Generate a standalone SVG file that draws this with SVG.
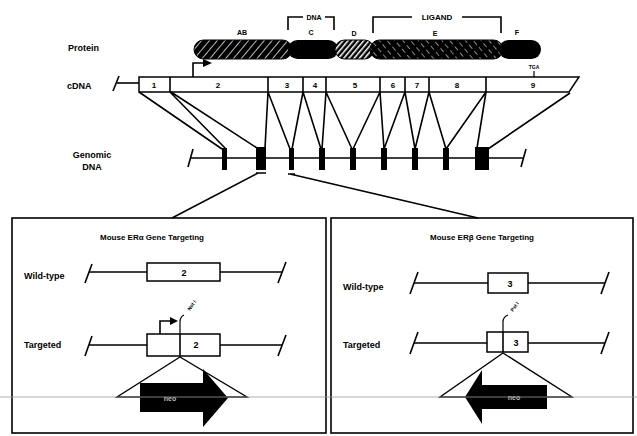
<svg xmlns="http://www.w3.org/2000/svg" width="637" height="436" viewBox="0 0 637 436">
<style>
text{font-family:"Liberation Sans",Arial,sans-serif;font-weight:bold;fill:#000}
.ln{stroke:#000;stroke-width:1.6;fill:none}
.thin{stroke:#000;stroke-width:1.2;fill:none}
.box{stroke:#000;stroke-width:1.5;fill:#fff}
.lbl{font-size:9px}
.sm{font-size:7px;text-anchor:middle}
.num{font-size:8px;text-anchor:middle}
.ex{fill:#000}
</style>
<defs>
<pattern id="hA" width="6" height="6" patternUnits="userSpaceOnUse" patternTransform="rotate(40)">
<rect width="6" height="6" fill="#000"/><rect x="0" y="0" width="1" height="6" fill="#bbb"/>
</pattern>
<pattern id="hD" width="4" height="4" patternUnits="userSpaceOnUse" patternTransform="rotate(40)">
<rect width="4" height="4" fill="#000"/><rect x="0" y="0" width="1.5" height="4" fill="#fff"/>
</pattern>
<pattern id="hE" width="6" height="8" patternUnits="userSpaceOnUse" patternTransform="rotate(-40)">
<rect width="6" height="8" fill="#000"/><rect x="0" y="0" width="0.9" height="5" fill="#999"/>
</pattern>
</defs>
<rect width="637" height="436" fill="#fff"/>

<g id="labels-left">
<text class="lbl" x="68" y="51">Protein</text>
<text class="lbl" x="67" y="89">cDNA</text>
<text class="lbl" x="92" y="158" text-anchor="middle">Genomic</text>
<text class="lbl" x="92" y="170" text-anchor="middle">DNA</text>
</g>

<g id="protein">
<rect x="194" y="40" width="98" height="19" rx="9.5" fill="url(#hA)" stroke="#000" stroke-width="1"/>
<rect x="288" y="40" width="50" height="19" rx="9.5" fill="#000"/>
<rect x="335" y="40" width="39" height="19" rx="9.5" fill="url(#hD)" stroke="#000" stroke-width="1"/>
<rect x="370" y="40" width="133" height="19" rx="9.5" fill="url(#hE)" stroke="#000" stroke-width="1"/>
<rect x="499" y="40" width="42" height="19" rx="9.5" fill="#000"/>
<text class="sm" x="242" y="35">AB</text>
<text class="sm" x="311" y="35">C</text>
<text class="sm" x="354" y="36">D</text>
<text class="sm" x="435" y="36">E</text>
<text class="sm" x="517" y="35">F</text>
<path class="ln" d="M288,30 V17 H303 M325,17 H334 V30"/>
<text class="sm" x="314" y="20">DNA</text>
<path class="ln" d="M373,33 V17 H412 M462,17 H501 V33"/>
<text class="sm" x="437" y="20" style="font-size:8px">LIGAND</text>
</g>

<g id="cdna">
<path class="ln" d="M117,83 H139"/>
<path class="ln" d="M113,91 L119,76"/>
<path class="box" d="M139,77 H579 L569,92 H139 Z"/>
<path class="ln" d="M170,77 V92 M268,77 V92 M303,77 V92 M326,77 V92 M380,77 V92 M405,77 V92 M429,77 V92 M486,77 V92"/>
<text class="num" x="154" y="88">1</text>
<text class="num" x="218" y="88">2</text>
<text class="num" x="287" y="88">3</text>
<text class="num" x="315" y="88">4</text>
<text class="num" x="355" y="88">5</text>
<text class="num" x="393" y="88">6</text>
<text class="num" x="417" y="88">7</text>
<text class="num" x="457" y="88">8</text>
<text class="num" x="533" y="88">9</text>
<path class="ln" d="M193,77 V63 H204"/>
<polygon points="203,59 212,63 203,67" fill="#000"/>
<path class="thin" d="M534,71 V77"/>
<text x="534" y="69" style="font-size:5px" text-anchor="middle">TGA</text>
</g>

<g id="genomic">
<path class="ln" d="M190,158 H524"/>
<path class="ln" d="M188,167 L193,149"/>
<path class="ln" d="M521,167 L526,149"/>
<rect class="ex" x="222" y="148" width="5" height="22"/>
<rect class="ex" x="256" y="147" width="10" height="23"/>
<rect class="ex" x="289" y="148" width="5" height="22"/>
<rect class="ex" x="319" y="148" width="6" height="22"/>
<rect class="ex" x="350" y="148" width="6" height="22"/>
<rect class="ex" x="381" y="148" width="6" height="22"/>
<rect class="ex" x="412" y="148" width="6" height="22"/>
<rect class="ex" x="443" y="148" width="6" height="22"/>
<rect class="ex" x="475" y="147" width="14" height="23"/>
</g>

<g id="connectors">
<path class="ln" d="M139,92 L222,149 M170,92 L226,149 M171,92 L257,148 M268,92 L265,148 M268,92 L290,149 M303,92 L292,149 M303,92 L321,149 M326,92 L322,149 M326,92 L352,149 M380,92 L353,149 M380,92 L384,149 M405,92 L384,149 M405,92 L415,149 M429,92 L415,149 M429,92 L446,149 M486,92 L446,149 M486,92 L477,148 M570,93 L488,149"/>
<path class="ln" d="M256,173 H266 M258,173 L172,218 M288,174 H295 M290,174 L478,218"/>
</g>

<g id="panel-alpha">
<rect x="12" y="218" width="314" height="215" fill="none" stroke="#000" stroke-width="1.6"/>
<text x="152" y="240" style="font-size:8px" text-anchor="middle">Mouse ERα Gene Targeting</text>
<text class="lbl" x="24" y="279">Wild-type</text>
<path class="ln" d="M89,272 H147 M220,272 H282"/>
<path class="ln" d="M85,283 L92,264 M278,283 L286,262"/>
<rect class="box" x="147" y="263" width="73" height="18"/>
<text class="num" x="184" y="276" style="font-size:9px">2</text>
<text class="lbl" x="24" y="348">Targeted</text>
<path class="ln" d="M89,345 H147 M220,345 H282"/>
<path class="ln" d="M85,356 L92,336 M278,356 L286,335"/>
<rect class="box" x="147" y="334" width="73" height="22"/>
<path class="ln" d="M180,334 V356"/>
<text class="num" x="196" y="348" style="font-size:9px">2</text>
<path class="ln" d="M160,334 V321 H171"/>
<polygon points="170,317 178,321 170,325" fill="#000"/>
<path class="thin" d="M180,334 V322 Q180,317 184,315"/>
<text x="190" y="311" style="font-size:5px" transform="rotate(-55 190 311)">Not I</text>
<polygon points="180,357 117,397 247,397" fill="#fff" stroke="#000" stroke-width="1.4"/>
<polygon points="140,383 203,383 203,369 228,398 203,427 203,412 140,412" fill="#000"/>
<text x="170" y="401" style="font-size:7px;fill:#bbb" text-anchor="middle">neo</text>
</g>

<g id="panel-beta">
<rect x="331" y="218" width="302" height="215" fill="none" stroke="#000" stroke-width="1.6"/>
<text x="482" y="240" style="font-size:8px" text-anchor="middle">Mouse ERβ Gene Targeting</text>
<text class="lbl" x="343" y="290">Wild-type</text>
<path class="ln" d="M414,283 H488 M528,283 H605"/>
<path class="ln" d="M410,294 L418,272 M601,294 L609,272"/>
<rect class="box" x="488" y="273" width="40" height="20"/>
<text class="num" x="510" y="287" style="font-size:9px">3</text>
<text class="lbl" x="343" y="348">Targeted</text>
<path class="ln" d="M414,343 H487 M528,343 H605"/>
<path class="ln" d="M410,354 L418,332 M601,354 L609,332"/>
<rect class="box" x="487" y="332" width="41" height="20"/>
<path class="ln" d="M503,332 V352"/>
<text class="num" x="516" y="346" style="font-size:9px">3</text>
<path class="thin" d="M503,332 V322 Q503,317 508,315"/>
<text x="513" y="312" style="font-size:5px" transform="rotate(-55 513 312)">Pst I</text>
<polygon points="503,353 440,397 572,397" fill="#fff" stroke="#000" stroke-width="1.4"/>
<polygon points="547,385 482,385 482,370 465,397 482,424 482,409 547,409" fill="#000"/>
<text x="514" y="400" style="font-size:7px;fill:#bbb" text-anchor="middle">neo</text>
</g>

<path d="M0,397 H637" stroke="#999" stroke-width="0.8"/>
</svg>
